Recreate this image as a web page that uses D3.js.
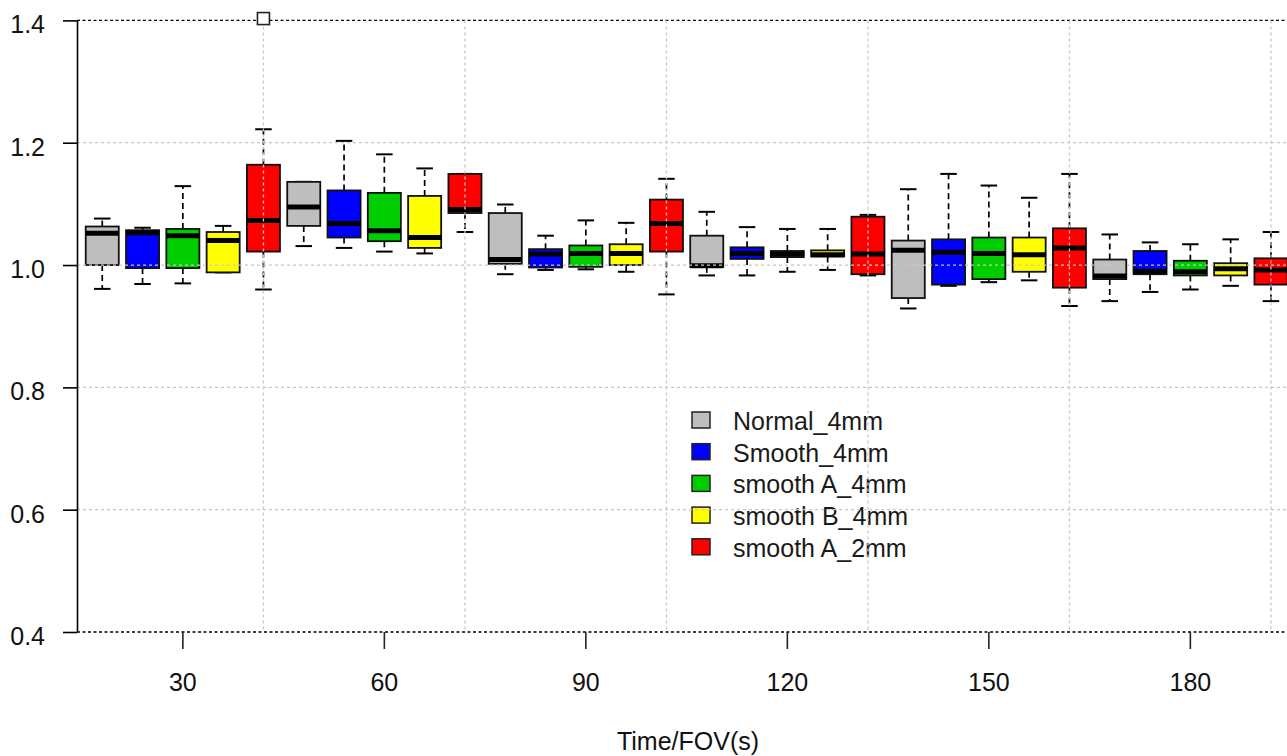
<!DOCTYPE html>
<html>
<head>
<meta charset="utf-8">
<script src="https://cdn.jsdelivr.net/npm/d3@7"></script>
<style>
  html, body { margin: 0; padding: 0; background: #fff; }
  svg { display: block; font-family: "Liberation Sans", Arial, sans-serif; }
</style>
</head>
<body>
<script>
// Time points (s) on the x axis
const times = [30, 60, 90, 120, 150, 180];

// Series and their fill colours
const seriesNames = ["Normal_4mm", "Smooth_4mm", "smooth A_4mm", "smooth B_4mm", "smooth A_2mm"];
const seriesColors = ["#bebebe", "#0000ff", "#00cd00", "#ffff00", "#ff0000"];

// Five-number summaries per time point: [lower whisker, Q1, median, Q3, upper whisker]
const normal4mm = [
  [0.961, 1.000, 1.052, 1.063, 1.076],
  [1.031, 1.064, 1.095, 1.136, 1.136],
  [0.985, 1.002, 1.009, 1.085, 1.099],
  [0.983, 0.997, 0.999, 1.048, 1.087],
  [0.929, 0.946, 1.024, 1.040, 1.124],
  [0.941, 0.977, 0.982, 1.009, 1.050]
];
const smooth4mm = [
  [0.969, 0.995, 1.053, 1.057, 1.061],
  [1.028, 1.045, 1.068, 1.122, 1.203],
  [0.992, 0.996, 1.018, 1.026, 1.048],
  [0.983, 1.010, 1.019, 1.029, 1.062],
  [0.966, 0.968, 1.021, 1.042, 1.149],
  [0.956, 0.985, 0.990, 1.023, 1.037]
];
const smoothA4mm = [
  [0.970, 0.995, 1.048, 1.059, 1.129],
  [1.022, 1.039, 1.056, 1.118, 1.181],
  [0.993, 0.997, 1.019, 1.032, 1.073],
  [0.989, 1.013, 1.018, 1.023, 1.059],
  [0.972, 0.977, 1.019, 1.045, 1.130],
  [0.960, 0.983, 0.989, 1.007, 1.034]
];
const smoothB4mm = [
  [0.988, 0.988, 1.040, 1.054, 1.064],
  [1.019, 1.028, 1.045, 1.113, 1.158],
  [0.989, 1.000, 1.019, 1.034, 1.069],
  [0.992, 1.014, 1.017, 1.024, 1.059],
  [0.975, 0.989, 1.017, 1.045, 1.110],
  [0.966, 0.983, 0.994, 1.003, 1.042]
];
const smoothA2mm = [
  [0.960, 1.022, 1.073, 1.164, 1.222],
  [1.054, 1.085, 1.091, 1.149, 1.149],
  [0.952, 1.022, 1.068, 1.107, 1.141],
  [0.983, 0.985, 1.018, 1.079, 1.082],
  [0.933, 0.963, 1.028, 1.060, 1.149],
  [0.941, 0.968, 0.992, 1.011, 1.054]
];
const seriesStats = [normal4mm, smooth4mm, smoothA4mm, smoothB4mm, smoothA2mm];

// Points beyond the whiskers
const outliers = [{ series: "smooth A_2mm", time: 30, value: 1.403 }];

// Axis ticks
const yTicks = [0.4, 0.6, 0.8, 1.0, 1.2, 1.4];
const yGrid = [0.6, 0.8, 1.0, 1.2];

const W = 1287, H = 756;
const plotLeft = 77, plotTop = 20.4, plotBottom = 632;

const svg = d3.select("body").append("svg")
  .attr("width", W).attr("height", H);

const y = d3.scaleLinear().domain([0.4, 1.4]).range([plotBottom, plotTop]);
const xGroup = d3.scaleBand().domain(times).range([82.1, 1291.1]).padding(0);
const xSeries = d3.scalePoint().domain(seriesNames).range([0, xGroup.bandwidth()]).padding(0.5);
const step = xSeries.step();
const boxW = step * 0.82;
const capW = boxW * 0.5;

// Frame lines at the ends of the value range
svg.append("g").selectAll("line")
  .data([0.4, 1.4]).join("line")
  .attr("x1", plotLeft).attr("x2", W + 20)
  .attr("y1", d => y(d)).attr("y2", d => y(d))
  .attr("stroke", "#000").attr("stroke-width", 1.3)
  .attr("stroke-dasharray", "3,2.5");

// Boxes
const boxes = [];
seriesStats.forEach((arr, si) => {
  arr.forEach((s, ti) => {
    boxes.push({ series: seriesNames[si], color: seriesColors[si], time: times[ti],
      lo: s[0], q1: s[1], med: s[2], q3: s[3], hi: s[4] });
  });
});
const cxOf = d => xGroup(d.time) + xSeries(d.series);

const gb = svg.append("g").selectAll("g").data(boxes).join("g");
// whiskers
gb.append("line")
  .attr("x1", cxOf).attr("x2", cxOf)
  .attr("y1", d => y(d.q3)).attr("y2", d => y(d.hi))
  .attr("stroke", "#000").attr("stroke-width", 1.7).attr("stroke-dasharray", "6,4");
gb.append("line")
  .attr("x1", cxOf).attr("x2", cxOf)
  .attr("y1", d => y(d.q1)).attr("y2", d => y(d.lo))
  .attr("stroke", "#000").attr("stroke-width", 1.7).attr("stroke-dasharray", "6,4");
// staples
gb.append("line")
  .attr("x1", d => cxOf(d) - capW / 2).attr("x2", d => cxOf(d) + capW / 2)
  .attr("y1", d => y(d.hi)).attr("y2", d => y(d.hi))
  .attr("stroke", "#000").attr("stroke-width", 2);
gb.append("line")
  .attr("x1", d => cxOf(d) - capW / 2).attr("x2", d => cxOf(d) + capW / 2)
  .attr("y1", d => y(d.lo)).attr("y2", d => y(d.lo))
  .attr("stroke", "#000").attr("stroke-width", 2);
// box body
gb.append("rect")
  .attr("x", d => cxOf(d) - boxW / 2)
  .attr("y", d => y(d.q3))
  .attr("width", boxW)
  .attr("height", d => y(d.q1) - y(d.q3))
  .attr("fill", d => d.color)
  .attr("stroke", "#111").attr("stroke-width", 1.8);
// median
gb.append("line")
  .attr("x1", d => cxOf(d) - boxW / 2).attr("x2", d => cxOf(d) + boxW / 2)
  .attr("y1", d => y(d.med)).attr("y2", d => y(d.med))
  .attr("stroke", "#000").attr("stroke-width", 5);

// Legend
const legend = svg.append("g").attr("transform", "translate(692,430)");
const li = legend.selectAll("g").data(seriesNames).join("g")
  .attr("transform", (d, i) => `translate(0,${i * 31.7})`);
li.append("rect")
  .attr("x", 0).attr("y", -18).attr("width", 18).attr("height", 16)
  .attr("fill", (d, i) => seriesColors[i])
  .attr("stroke", "#222").attr("stroke-width", 1.5);
li.append("text")
  .attr("x", 41).attr("y", 0)
  .attr("font-size", 25).attr("fill", "#1a1a1a")
  .text(d => d);

// Grid on top of the boxes
const grid = svg.append("g")
  .attr("stroke", "#c8c8c8").attr("stroke-width", 1.3).attr("stroke-dasharray", "3,3");
grid.selectAll(".h").data(yGrid).join("line").attr("class", "h")
  .attr("x1", plotLeft).attr("x2", W + 20)
  .attr("y1", d => y(d)).attr("y2", d => y(d));
grid.selectAll(".v").data(times).join("line").attr("class", "v")
  .attr("x1", d => xGroup(d) + xSeries(seriesNames[4]))
  .attr("x2", d => xGroup(d) + xSeries(seriesNames[4]))
  .attr("y1", plotTop).attr("y2", plotBottom);

// Outliers
svg.append("g").selectAll("rect").data(outliers).join("rect")
  .attr("x", d => xGroup(d.time) + xSeries(d.series) - 6)
  .attr("y", d => y(d.value) - 6)
  .attr("width", 12).attr("height", 12)
  .attr("fill", "#fff").attr("stroke", "#222").attr("stroke-width", 1.6);

// Y axis
const yAxis = svg.append("g")
  .attr("transform", `translate(${plotLeft},0)`)
  .call(d3.axisLeft(y).tickValues(yTicks).tickFormat(d3.format(".1f"))
    .tickSize(14).tickSizeOuter(0).tickPadding(18));
yAxis.select(".domain").attr("stroke", "#000").attr("stroke-width", 1.6);
yAxis.selectAll(".tick line").attr("stroke", "#000").attr("stroke-width", 1.6);
yAxis.selectAll(".tick text")
  .attr("font-size", 25).attr("font-family", "Liberation Sans, Arial, sans-serif")
  .attr("fill", "#111").attr("dy", "0.5em");

// X axis (group labels)
const xAxis = svg.append("g")
  .attr("transform", `translate(0,${plotBottom})`)
  .call(d3.axisBottom(xGroup).tickSize(17).tickSizeOuter(0).tickPadding(24));
xAxis.select(".domain").remove();
xAxis.selectAll(".tick line").attr("stroke", "#222").attr("stroke-width", 1.6);
xAxis.selectAll(".tick text")
  .attr("font-size", 25).attr("font-family", "Liberation Sans, Arial, sans-serif")
  .attr("fill", "#111");

// Axis title
svg.append("text")
  .attr("x", 688).attr("y", 750)
  .attr("text-anchor", "middle")
  .attr("font-size", 25).attr("fill", "#111")
  .text("Time/FOV(s)");
</script>
</body>
</html>
